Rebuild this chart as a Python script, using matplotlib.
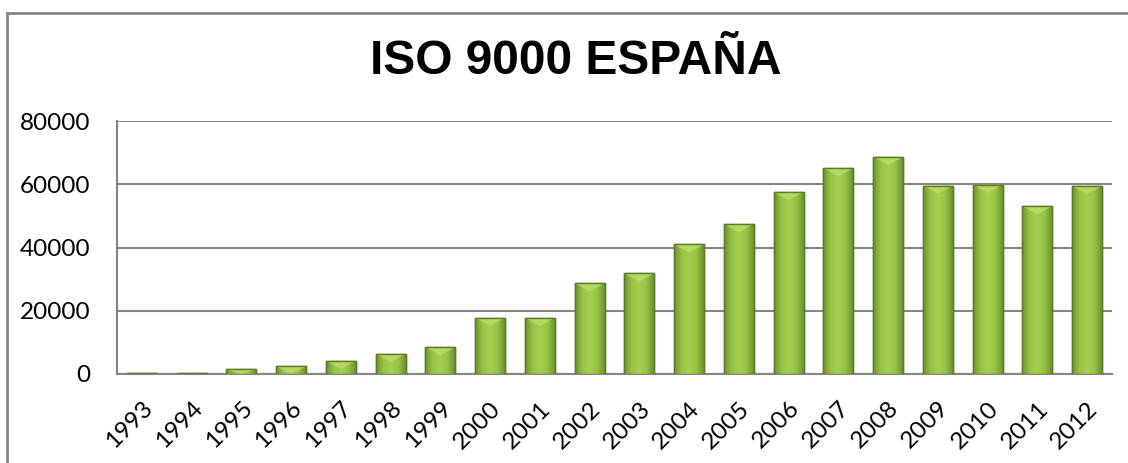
import numpy as np
import matplotlib.pyplot as plt
from matplotlib.patches import Rectangle
from matplotlib.lines import Line2D
from matplotlib.colors import LinearSegmentedColormap

years = ['1993', '1994', '1995', '1996', '1997', '1998', '1999', '2000', '2001', '2002',
         '2003', '2004', '2005', '2006', '2007', '2008', '2009', '2010', '2011', '2012']
certs = [250, 300, 1491, 2401, 4218, 6365, 8522, 17749, 17749, 28690,
         31829, 40972, 47445, 57552, 65112, 68730, 59576, 59854, 53057, 59418]
yticks = [0, 20000, 40000, 60000, 80000]

W, H = 1128, 463
fig = plt.figure(figsize=(W / 100, H / 100), dpi=100)
ax = fig.add_axes([117 / W, 1 - 374 / H, (1112 - 117) / W, (374 - 121) / H])

grid_col = '#868686'
x = np.arange(len(years))
bars = ax.bar(x, certs, width=0.6, color='#8db63c', edgecolor='#5d7a2a', linewidth=1.0, zorder=3)

# horizontal shading for the bevelled look
cmap = LinearSegmentedColormap.from_list('g', ['#6f9330', '#98c346', '#a5cf50', '#98c346', '#6f9330'])
grad = np.linspace(0, 1, 64).reshape(1, -1)
for b in bars:
    bx, by = b.get_x(), b.get_y()
    bw, bh = b.get_width(), b.get_height()
    im = ax.imshow(grad, cmap=cmap, extent=[bx, bx + bw, by, by + bh], aspect='auto', zorder=3.5)
    im.set_clip_path(b)
    # light top cap
    cap = min(bh, 2600)
    ax.fill([bx, bx + bw, bx + bw / 2], [by + bh, by + bh, by + bh - cap],
            color='#b8de66', alpha=0.8, zorder=3.6, lw=0)
    ax.add_patch(Rectangle((bx, by), bw, bh, fill=False, edgecolor='#5d7a2a', lw=1.0, zorder=3.7))

ax.set_xlim(-0.5, len(years) - 0.5)
ax.set_ylim(0, 80000)
ax.set_yticks(yticks)
ax.set_yticklabels([str(v) for v in yticks], fontsize=17.5, family='Lato')
ax.set_xticks(x)
ax.set_xticklabels(years, rotation=45, ha='right', rotation_mode='anchor', fontsize=17.5, family='Lato')
ax.tick_params(axis='both', length=0)
ax.tick_params(axis='y', pad=19)
ax.tick_params(axis='x', pad=17)
ax.yaxis.grid(True, color=grid_col, lw=1.5, zorder=0)
for s in ['top', 'right']:
    ax.spines[s].set_visible(False)
for s in ['left', 'bottom']:
    ax.spines[s].set_color(grid_col)
    ax.spines[s].set_linewidth(1.5)

fig.text(0.51, 1 - 61 / H, 'ISO 9000 ESPAÑA', ha='center', va='center',
         fontsize=34.5, fontweight='bold', family='Liberation Sans')

# chart-area frame: only top and left edges fall inside the picture
bx0, by0 = 6.5 / W, 1 - 12.5 / H
fig.lines.append(Line2D([bx0, 1.0], [by0, by0], transform=fig.transFigure, color=grid_col, lw=2))
fig.lines.append(Line2D([bx0, bx0], [0.0, by0], transform=fig.transFigure, color=grid_col, lw=2))

fig.savefig('out.png', dpi=100)
